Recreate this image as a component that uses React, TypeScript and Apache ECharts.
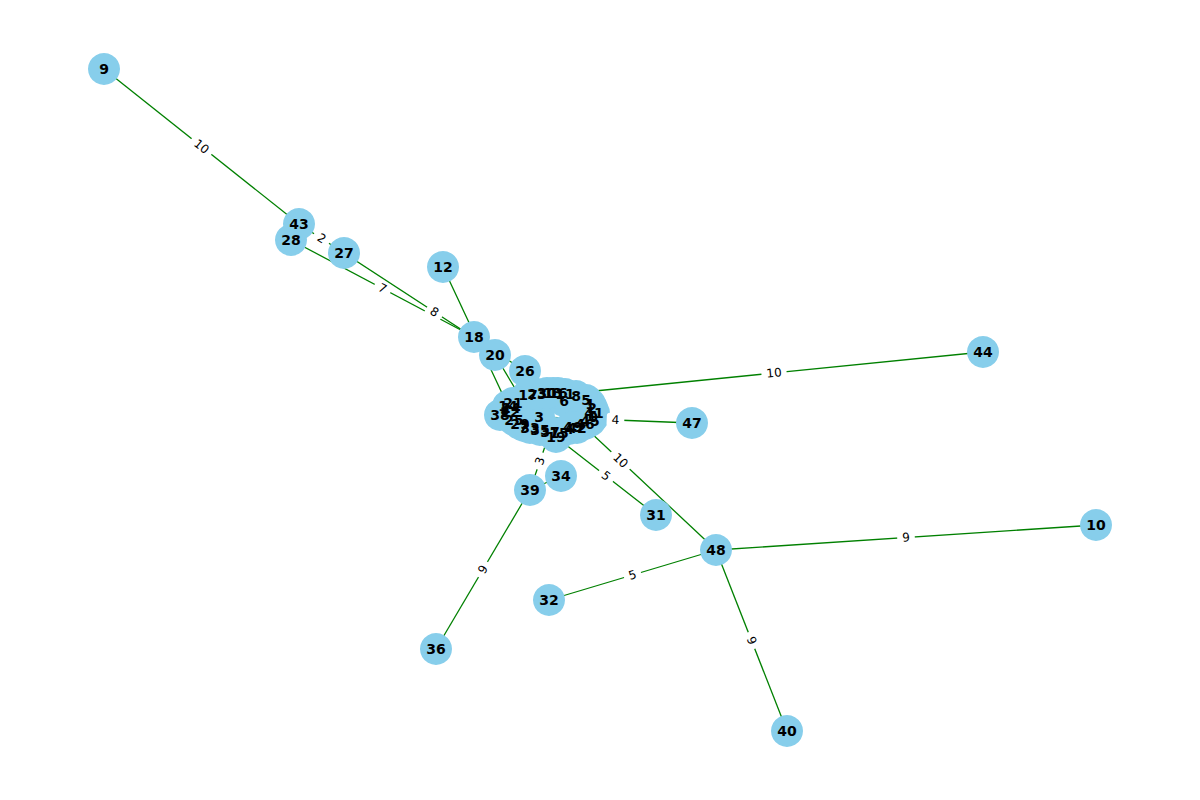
import React, { useEffect, useRef } from "react";
import * as echarts from "echarts";

// Node ids and their layout positions (layout units)
const nodeIds: number[] = Array.from({ length: 50 }, (_, i) => i);
const nodeX: number[] = [
  593, 590, 592, 539, 569, 586, 564, 524, 576, 104,
  1096, 565, 443, 553, 508, 559, 558, 528, 474, 556,
  495, 513, 510, 537, 511, 514, 525, 344, 291, 520,
  547, 656, 549, 530, 561, 540, 436, 550, 500, 530,
  787, 594, 577, 299, 983, 590, 585, 692, 716, 573,
];
const nodeY: number[] = [
  417, 404, 408, 417, 429, 400, 401, 426, 396, 69,
  525, 394, 267, 393, 406, 433, 393, 395, 337, 437,
  355, 403, 412, 394, 408, 420, 371, 253, 240, 424,
  393, 515, 600, 428, 476, 430, 649, 432, 415, 490,
  731, 413, 428, 224, 352, 421, 424, 423, 550, 427,
];

// Edges with visible weight labels
const edgeSource: number[] = [9, 43, 27, 28, 44, 47, 48, 31, 39, 48, 48, 48, 39];
const edgeTarget: number[] = [43, 27, 26, 18, 11, 3, 26, 19, 37, 10, 32, 40, 36];
const edgeWeight: number[] = [10, 2, 8, 7, 10, 4, 10, 5, 3, 9, 5, 9, 9];

// Edges whose labels are hidden under nodes
const hiddenSource: number[] = [12, 18, 20, 26, 34, 3, 38];
const hiddenTarget: number[] = [14, 20, 35, 6, 39, 17, 22];
const hiddenWeight: number[] = [6, 1, 4, 3, 2, 1, 1];

// Ring of tightly packed nodes (chained)
const ringOrder: number[] = [
  17, 23, 30, 13, 16, 11, 6, 8, 5, 1, 2, 41, 0, 45, 46,
  42, 49, 4, 15, 19, 37, 35, 33, 29, 7, 25, 22, 24, 14, 21,
];
const ringWeight: number[] = [
  1, 2, 1, 1, 2, 1, 1, 2, 1, 1, 1, 2, 1, 1, 1,
  2, 1, 1, 1, 2, 1, 1, 1, 2, 1, 1, 1, 2, 1,
];

export default function App() {
  const ref = useRef<HTMLDivElement>(null);
  useEffect(() => {
    if (!ref.current) return;
    const chart = echarts.init(ref.current, null, { renderer: "svg" });
    const nodes = nodeIds.map((id) => ({
      name: String(id),
      value: [nodeX[id], nodeY[id]],
    }));
    const links: any[] = [];
    ringOrder.slice(0, -1).forEach((s, i) => {
      links.push({ source: String(s), target: String(ringOrder[i + 1]), value: ringWeight[i], label: { show: false } });
    });
    hiddenSource.forEach((s, i) => {
      links.push({ source: String(s), target: String(hiddenTarget[i]), value: hiddenWeight[i], label: { show: false } });
    });
    edgeSource.forEach((s, i) => {
      links.push({ source: String(s), target: String(edgeTarget[i]), value: edgeWeight[i], label: { show: true } });
    });
    chart.setOption({
      animation: false,
      backgroundColor: "#ffffff",
      grid: { left: 0, right: 0, top: 0, bottom: 0 },
      xAxis: { type: "value", min: 0, max: 1200, show: false },
      yAxis: { type: "value", min: 0, max: 800, inverse: true, show: false },
      series: [
        {
          type: "graph",
          coordinateSystem: "cartesian2d",
          symbol: "circle",
          symbolSize: 32,
          itemStyle: { color: "#87CEEB" },
          label: {
            show: true,
            position: "inside",
            color: "#000000",
            fontWeight: "bold",
            fontSize: 14,
            fontFamily: "DejaVu Sans",
            formatter: "{b}",
          },
          lineStyle: { color: "#008000", width: 1.3, opacity: 1 },
          edgeLabel: {
            show: false,
            position: "middle",
            distance: 0,
            verticalAlign: "middle",
            formatter: (p: any) => String(p.value),
            fontSize: 12,
            fontFamily: "DejaVu Sans",
            color: "#000000",
            backgroundColor: "#ffffff",
            padding: [1, 5],
            borderRadius: 3,
          },
          emphasis: { disabled: true },
          data: nodes,
          links,
        },
      ],
    });
    return () => chart.dispose();
  }, []);
  return (
    <div
      ref={ref}
      style={{ position: "fixed", left: 0, top: 0, width: 1200, height: 800, background: "#fff" }}
    />
  );
}
